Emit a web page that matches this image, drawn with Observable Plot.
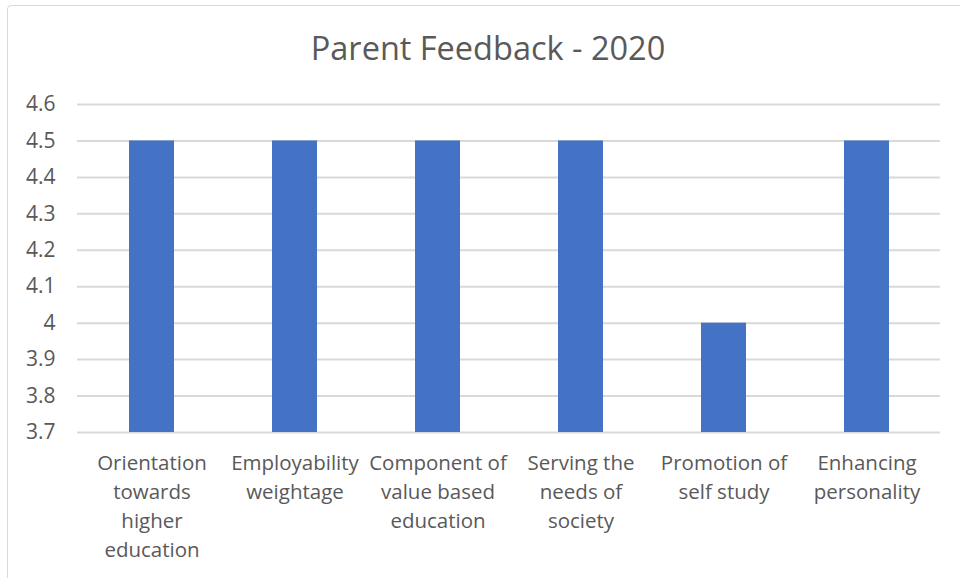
<!DOCTYPE html>
<html>
<head>
<meta charset="utf-8">
<script src="https://cdn.jsdelivr.net/npm/d3@7"></script>
<script src="https://cdn.jsdelivr.net/npm/@observablehq/plot@0.6"></script>
<style>
  html, body { margin: 0; padding: 0; background: #fff; }
  #wrap { position: relative; width: 960px; height: 578px; overflow: hidden; font-family: "Open Sans", Lato, sans-serif; }
  #frame { position: absolute; left: 7px; top: 5px; width: 1000px; height: 1000px; border: 1.5px solid #d9d9d9; border-radius: 4px; box-sizing: border-box; }
  #title { position: absolute; left: 8px; top: 0; width: 960px; height: 80px; display: flex; align-items: center; justify-content: center; padding-top: 14px; box-sizing: border-box; font-size: 32.5px; color: #595959; }
  #chart { position: absolute; left: 0; top: 80px; }
</style>
</head>
<body>
<div id="wrap">
  <div id="frame"></div>
  <div id="title">Parent Feedback - 2020</div>
  <div id="chart"></div>
</div>
<script>
const categories = [
  "Orientation\ntowards\nhigher\neducation",
  "Employability\nweightage",
  "Component of\nvalue based\neducation",
  "Serving the\nneeds of\nsociety",
  "Promotion of\nself study",
  "Enhancing\npersonality"
];
const values = [4.5, 4.5, 4.5, 4.5, 4.0, 4.5];
const yTicks = [3.7, 3.8, 3.9, 4.0, 4.1, 4.2, 4.3, 4.4, 4.5, 4.6];

const data = categories.map((c, i) => ({category: c, value: values[i]}));

const chart = Plot.plot({
  width: 960,
  height: 498,
  marginTop: 24,
  marginBottom: 146,
  marginLeft: 77,
  marginRight: 20,
  style: {fontFamily: "'Open Sans', Lato, sans-serif", fontSize: "20px", color: "#595959", background: "transparent"},
  x: {domain: categories, paddingInner: 0.687, paddingOuter: 0.3435, label: null},
  y: {domain: [3.7, 4.6], label: null},
  marks: [
    Plot.ruleY(yTicks, {y: d => d, stroke: "#d9d9d9", strokeWidth: 2}),
    Plot.barY(data, {x: "category", y1: 3.7, y2: "value", fill: "#4472c4"}),
    Plot.axisY({ticks: yTicks, tickSize: 0, tickPadding: 22, tickFormat: d => String(+d.toFixed(1)), fill: "#595959", fontSize: 21}),
    Plot.axisX({tickSize: 0, tickPadding: 17, lineHeight: 1.42, fill: "#595959", fontSize: 20.5, textOverflow: null})
  ]
});
document.getElementById("chart").appendChild(chart);
</script>
</body>
</html>
